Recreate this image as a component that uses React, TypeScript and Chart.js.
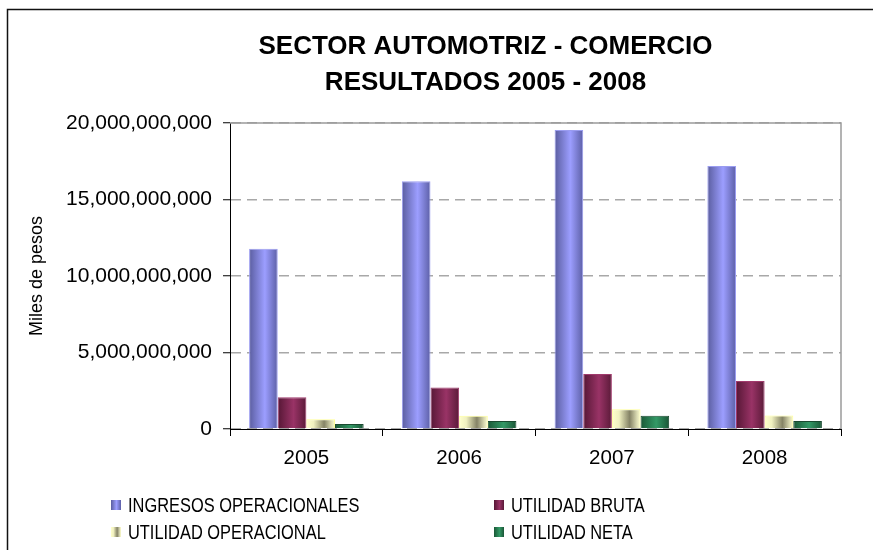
import React, { useEffect, useRef } from 'react';
import { Chart, registerables } from 'chart.js';

Chart.register(...registerables);

// ---------- data ----------
const categories = ['2005', '2006', '2007', '2008'];
const ingresosOperacionales = [11.78e9, 16.19e9, 19.54e9, 17.19e9];
const utilidadBruta = [2.07e9, 2.72e9, 3.59e9, 3.14e9];
const utilidadOperacional = [0.63e9, 0.87e9, 1.29e9, 0.89e9];
const utilidadNeta = [0.33e9, 0.52e9, 0.87e9, 0.52e9];
const seriesNames = ['INGRESOS OPERACIONALES', 'UTILIDAD BRUTA', 'UTILIDAD OPERACIONAL', 'UTILIDAD NETA'];
const yTicks = [0, 5e9, 10e9, 15e9, 20e9];
const titleLines = ['SECTOR AUTOMOTRIZ - COMERCIO', 'RESULTADOS 2005 - 2008'];
const yAxisTitle = 'Miles de pesos';

// ---------- styles ----------
const FONT = '"Liberation Sans", Arial, sans-serif';
const gradientStops: [number, string][][] = [
  [[0, '#5a5d9f'], [0.55, '#9c9eff'], [1, '#5c5fa6']],
  [[0, '#561735'], [0.55, '#993366'], [1, '#5a1a38']],
  [[0, '#ffffcc'], [0.25, '#f0f0c0'], [0.62, '#858366'], [0.88, '#dcdcb4'], [1, '#ffffcc']],
  [[0, '#1a5836'], [0.55, '#339966'], [1, '#1a5536']],
];
const borderColors = ['#9a9cf0', '#a03a6c', '#ffff99', '#1a4a30'];

function makeGradient(ctx: CanvasRenderingContext2D, x0: number, x1: number, stops: [number, string][]) {
  const g = ctx.createLinearGradient(x0, 0, x1, 0);
  stops.forEach(([o, c]) => g.addColorStop(o, c));
  return g;
}

const gradientPlugin = {
  id: 'barGradient',
  beforeDatasetsDraw(chart: any) {
    const ctx = chart.ctx;
    chart.data.datasets.forEach((_: any, di: number) => {
      const meta = chart.getDatasetMeta(di);
      meta.data.forEach((el: any) => {
        const g = makeGradient(ctx, el.x - el.width / 2, el.x + el.width / 2, gradientStops[di]);
        el.options = { ...el.options, backgroundColor: g };
      });
    });
    // plot area top/right gray border
    const { left, right, top, bottom } = chart.chartArea;
    ctx.save();
    ctx.strokeStyle = '#9a9a9a';
    ctx.lineWidth = 1.5;
    ctx.beginPath();
    ctx.moveTo(left, top);
    ctx.lineTo(right, top);
    ctx.lineTo(right, bottom);
    ctx.stroke();
    ctx.restore();
  },
};

const decorPlugin = {
  id: 'decor',
  afterDraw(chart: any) {
    const ctx: CanvasRenderingContext2D = chart.ctx;
    ctx.save();
    // outer frame (top + left visible)
    ctx.strokeStyle = '#111';
    ctx.lineWidth = 1.5;
    ctx.beginPath();
    ctx.moveTo(7.5, 550);
    ctx.lineTo(7.5, 9.5);
    ctx.lineTo(873, 9.5);
    ctx.stroke();
    // title
    ctx.fillStyle = '#000';
    ctx.font = `bold 26px ${FONT}`;
    ctx.textAlign = 'center';
    ctx.textBaseline = 'middle';
    ctx.fillText(titleLines[0], 485.5, 46.5);
    ctx.fillText(titleLines[1], 485.5, 82.5);
    // legend
    const cols = [111, 494];
    const rows = [505, 532];
    ctx.textAlign = 'left';
    seriesNames.forEach((name, i) => {
      const x = cols[i % 2];
      const y = rows[Math.floor(i / 2)];
      ctx.fillStyle = makeGradient(ctx, x, x + 10, gradientStops[i]);
      ctx.fillRect(x, y - 5, 10, 10);
      ctx.fillStyle = '#000';
      ctx.save();
      ctx.translate(x + 17, y + 1);
      ctx.scale(0.82, 1);
      ctx.font = `20px ${FONT}`;
      ctx.fillText(name, 0, 0);
      ctx.restore();
    });
    ctx.restore();
  },
};

export default function App() {
  const ref = useRef<HTMLCanvasElement>(null);
  useEffect(() => {
    const series = [ingresosOperacionales, utilidadBruta, utilidadOperacional, utilidadNeta];
    const chart = new Chart(ref.current as HTMLCanvasElement, {
      type: 'bar',
      data: {
        labels: categories,
        datasets: series.map((d, i) => ({
          label: seriesNames[i],
          data: d,
          backgroundColor: gradientStops[i][1][1],
          borderColor: borderColors[i],
          borderWidth: 1,
          categoryPercentage: 0.75,
          barPercentage: 1,
        })),
      },
      options: {
        responsive: false,
        animation: false,
        layout: { padding: { left: 20, top: 123, right: 32, bottom: 76 } },
        plugins: {
          legend: { display: false },
          title: { display: false },
          tooltip: { enabled: false },
        },
        scales: {
          x: {
            grid: {
              display: true,
              drawOnChartArea: false,
              drawTicks: true,
              tickLength: 7,
              tickColor: '#000',
              offset: true,
            },
            border: { color: '#000', width: 1 },
            ticks: { font: { family: FONT, size: 20.5 }, color: '#000', padding: 10 },
            afterFit: (s: any) => {
              s.height = 45;
            },
          },
          y: {
            min: 0,
            max: 20e9,
            afterBuildTicks: (s: any) => {
              s.ticks = yTicks.map((v) => ({ value: v }));
            },
            grid: {
              color: '#a8a8a8',
              lineWidth: 1.5,
              tickColor: '#000',
              tickLength: 7,
              tickWidth: 1,
              tickBorderDash: [],
            },
            border: { color: '#000', width: 1, dash: [10, 6] },
            ticks: {
              font: { family: FONT, size: 21 },
              color: '#000',
              padding: 11,
              callback: (v: any) => Number(v).toLocaleString('en-US'),
            },
            title: {
              display: true,
              text: yAxisTitle,
              color: '#000',
              font: { family: FONT, size: 18 },
              padding: { top: 6, bottom: 0 },
            },
            afterFit: (s: any) => {
              s.width = 210;
            },
          },
        },
      },
      plugins: [gradientPlugin, decorPlugin],
    } as any);
    return () => chart.destroy();
  }, []);
  return (
    <div style={{ position: 'absolute', left: 0, top: 0, width: 873, height: 550, background: '#fff' }}>
      <canvas ref={ref} width={873} height={550} style={{ display: 'block' }} />
    </div>
  );
}
